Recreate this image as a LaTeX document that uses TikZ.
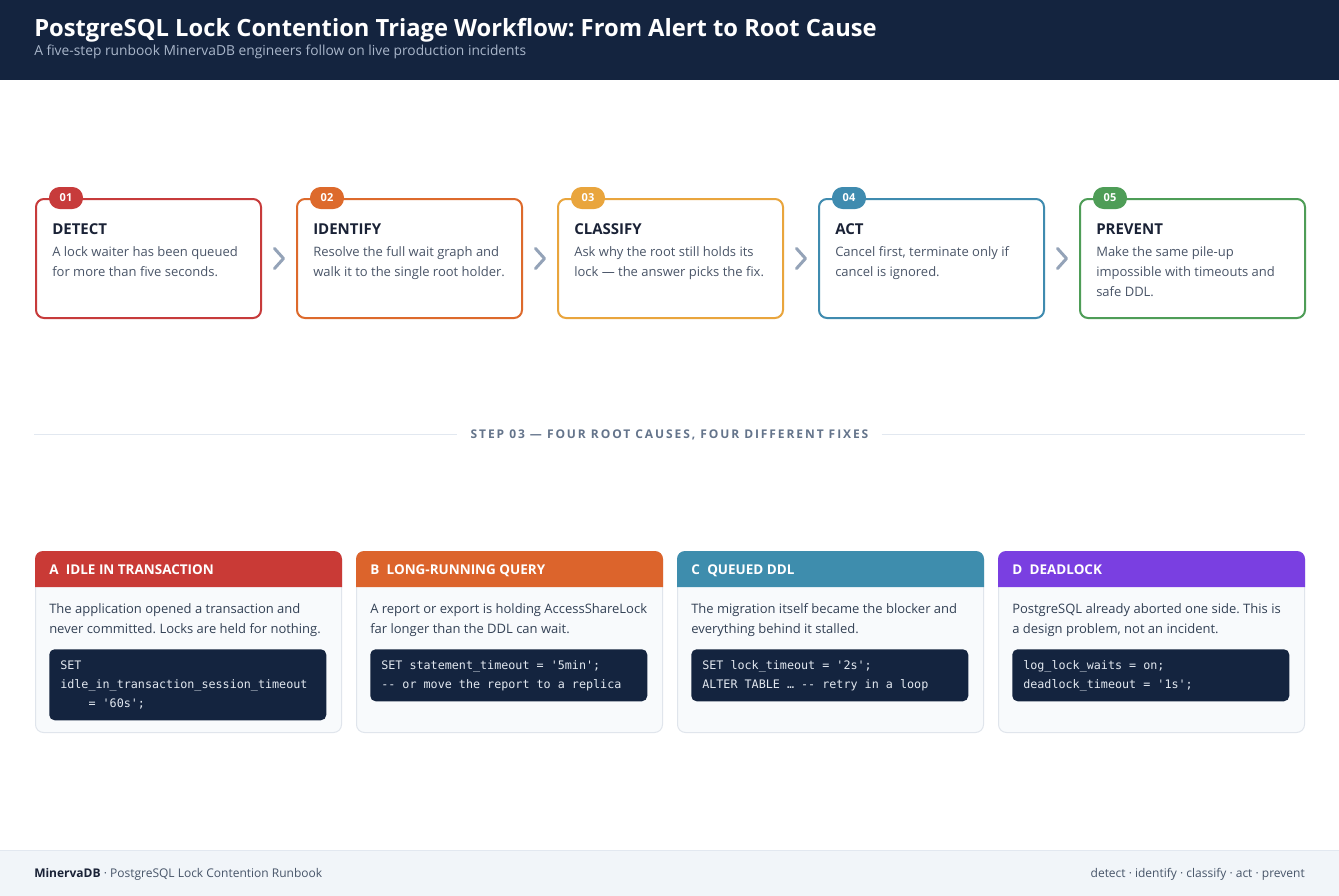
\documentclass[tikz,border=0pt]{standalone}
\usepackage{fontspec}
\setmainfont{Open Sans}
\setsansfont{Open Sans}
\setmonofont{DejaVu Sans Mono}
\newfontfamily\spacedfont[LetterSpace=16]{Open Sans}
\usetikzlibrary{positioning,calc}
\definecolor{navy}{HTML}{14243F}
\definecolor{subtle}{HTML}{A9B6CA}
\definecolor{ink}{HTML}{1A2236}
\definecolor{slate}{HTML}{4A5568}
\definecolor{bodytxt}{HTML}{334155}
\definecolor{chevgray}{HTML}{94A3B8}
\definecolor{rulegray}{HTML}{E2E8F0}
\definecolor{labgray}{HTML}{64748B}
\definecolor{cardbg}{HTML}{F8FAFC}
\definecolor{cardline}{HTML}{E0E5EC}
\definecolor{footbg}{HTML}{F1F5F9}
\definecolor{foottxt}{HTML}{475569}
\definecolor{codetxt}{HTML}{E2E8F0}
\definecolor{stepA}{HTML}{C73B3B}
\definecolor{stepB}{HTML}{DD6A2C}
\definecolor{stepC}{HTML}{E9A53D}
\definecolor{stepD}{HTML}{3F8BAF}
\definecolor{stepE}{HTML}{4E9D57}
\definecolor{causeA}{HTML}{C93A36}
\definecolor{causeB}{HTML}{DC642C}
\definecolor{causeC}{HTML}{3E8DAD}
\definecolor{causeD}{HTML}{7A3FE1}
\newcommand\cmtdash{\mbox{-}\mbox{-}}
\newcommand\q{\textquotesingle}
\newcommand\monospace{\spaceskip=5.3pt\relax}
\frenchspacing
\begin{document}
\begin{tikzpicture}[x=0.75pt,y=-0.75pt,
  stepcard/.style={draw,line width=1.5pt,rounded corners=6pt,fill=white,minimum width=168.75pt,minimum height=89.25pt,inner sep=0pt},
  badge/.style={rounded corners=8pt,minimum width=25.5pt,minimum height=16.5pt,inner sep=0pt,text=white,font=\bfseries\fontsize{8.25}{9}\selectfont},
  steptitle/.style={anchor=base west,inner sep=0pt,text=ink,font=\bfseries\fontsize{11.25}{12}\selectfont},
  stepdesc/.style={anchor=north west,inner sep=0pt,text=slate,align=left,font=\fontsize{9.75}{15}\selectfont},
  chev/.style={draw=chevgray,line width=2.25pt,line cap=round,line join=round},
  causecard/.style={draw=cardline,line width=0.75pt,fill=cardbg,rounded corners=6pt,minimum width=229.5pt,minimum height=135.75pt,inner sep=0pt},
  causehead/.style={anchor=base west,inner sep=0pt,text=white,font=\bfseries\fontsize{10.1}{12}\selectfont},
  causedesc/.style={anchor=north west,inner sep=0pt,text=bodytxt,align=left,font=\fontsize{9.75}{15}\selectfont},
  codebox/.style={anchor=north west,fill=navy,rounded corners=4pt,text=codetxt,text width=191.25pt,inner xsep=8.25pt,inner ysep=5.25pt,align=left,font=\ttfamily\fontsize{8.8}{14.25}\selectfont},
  divlabel/.style={inner xsep=9.75pt,text=labgray,font=\spacedfont\bfseries\fontsize{9}{10}\selectfont},
  divline/.style={draw=rulegray,line width=0.75pt},
  foot/.style={inner sep=0pt,text=foottxt,font=\fontsize{9}{11}\selectfont}]
\useasboundingbox (0,0) rectangle (1339,896);
\fill[white] (0,0) rectangle (1339,896);
% header
\fill[navy] (0,0) rectangle (1339,80);
\node[anchor=base west,inner sep=0pt,text=white,font=\bfseries\fontsize{17.8}{20}\selectfont] (title) at (34,36) {PostgreSQL Lock Contention Triage Workflow: From Alert to Root Cause};
\node[anchor=base west,inner sep=0pt,text=subtle,font=\fontsize{10.35}{12}\selectfont] (subtitle) at (34,55.5) {A five-step runbook MinervaDB engineers follow on live production incidents};
% five steps
\foreach \i/\c/\t/\d in {1/stepA/DETECT/{A lock waiter has been queued\\for more than five seconds.},
  2/stepB/IDENTIFY/{Resolve the full wait graph and\\walk it to the single root holder.},
  3/stepC/CLASSIFY/{Ask why the root still holds its\\lock — the answer picks the fix.},
  4/stepD/ACT/{Cancel first, terminate only if\\cancel is ignored.},
  5/stepE/PREVENT/{Make the same pile-up\\impossible with timeouts and\\safe DDL.}}
{
  \pgfmathsetmacro\xx{35+(\i-1)*261}
  \node[stepcard,draw=\c,anchor=north west] (s\i) at (\xx,198) {};
  \node[badge,fill=\c] (b\i) at ($(s\i.north west)+(31,0)$) {0\i};
  \node[steptitle] (t\i) at ($(s\i.north west)+(17,36)$) {\t};
  \node[stepdesc] (d\i) at ($(s\i.north west)+(17,44.5)$) {\strut\d};
}
\foreach \i/\j in {1/2,2/3,3/4,4/5}\draw[chev] ($(s\i.east)!0.5!(s\j.west)+(-4.5,-10)$) -- ++(9,10) -- ++(-9,10);
% divider
\node[divlabel] (div) at (669.5,434.5) {STEP 03 — FOUR ROOT CAUSES, FOUR DIFFERENT FIXES};
\draw[divline] (34,434) -- (div.west |- 0,434);
\draw[divline] (div.east |- 0,434) -- (1305,434);
% four root causes
\foreach \i/\c/\l/\t/\d/\k in {1/causeA/A/IDLE IN TRANSACTION/{The application opened a transaction and\\never committed. Locks are held for nothing.}/{SET\\idle\_in\_transaction\_session\_timeout\\\phantom{xxxx}= \q60s\q;},
  2/causeB/B/LONG-RUNNING QUERY/{A report or export is holding AccessShareLock\\far longer than the DDL can wait.}/{SET statement\_timeout = \q5min\q;\\\cmtdash{} or move the report to a replica},
  3/causeC/C/QUEUED DDL/{The migration itself became the blocker and\\everything behind it stalled.}/{SET lock\_timeout = \q2s\q;\\ALTER TABLE … \cmtdash{} retry in a loop},
  4/causeD/D/DEADLOCK/{PostgreSQL already aborted one side. This is\\a design problem, not an incident.}/{log\_lock\_waits = on;\\deadlock\_timeout = \q1s\q;}}
{
  \pgfmathsetmacro\xx{35+(\i-1)*321}
  \node[causecard,anchor=north west] (c\i) at (\xx,551) {};
  \fill[\c] ($(c\i.north west)+(0,36)$) [rounded corners=6pt] -- (c\i.north west) -- (c\i.north east) [sharp corners] -- ($(c\i.north east)+(0,36)$) -- cycle;
  \node[causehead] (h\i) at ($(c\i.north west)+(14,23)$) {\l\hspace{0.55em}\t};
  \node[causedesc] (e\i) at ($(c\i.north west)+(14,48.5)$) {\strut\d};
  \node[codebox] (k\i) at ($(c\i.north west)+(14,98)$) {\monospace\strut\k\strut};
}
% footer
\fill[footbg] (0,850) rectangle (1339,896);
\draw[divline] (0,850) -- (1339,850);
\node[foot,anchor=base west] (footl) at (34,877.5) {\textbf{\color{ink}MinervaDB} · PostgreSQL Lock Contention Runbook};
\node[foot,anchor=base east] (footr) at (1305,877.5) {detect · identify · classify · act · prevent};
\end{tikzpicture}
\end{document}
